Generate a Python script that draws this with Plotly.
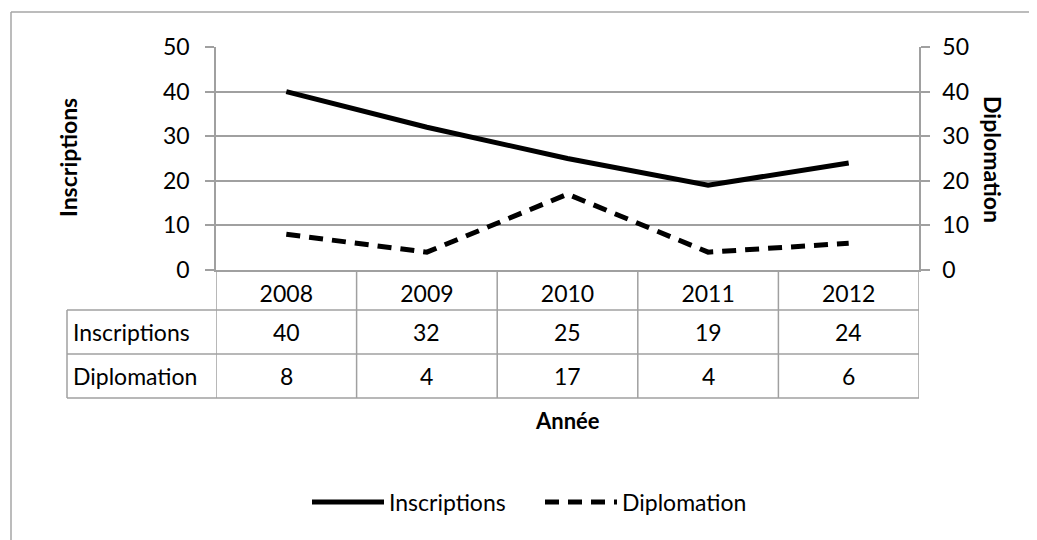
import plotly.graph_objects as go

W, H = 1037, 540
OX, OY = 8, 8  # page body margin offset

years = ["2008", "2009", "2010", "2011", "2012"]
inscriptions = [40, 32, 25, 19, 24]
diplomation = [8, 4, 17, 4, 6]
series_names = ["Inscriptions", "Diplomation"]
y_ticks = [0, 10, 20, 30, 40, 50]

FONT = "Lato, Calibri, Carlito, sans-serif"
FS = 23
GRID = "#a0a0a0"

def px(x):
    return (x - OX) / W

def py(y):
    return 1 - (y - OY) / H

# plot area (page pixels)
L, R, T, B = 216, 919, 47, 270
row_lines = [310, 354, 398]
table_left = 67

fig = go.Figure()
fig.add_trace(go.Scatter(x=years, y=inscriptions, name=series_names[0], mode="lines",
                         line=dict(color="black", width=5), yaxis="y"))
fig.add_trace(go.Scatter(x=years, y=diplomation, name=series_names[1], mode="lines",
                         line=dict(color="black", width=5, dash="14px,9px"), yaxis="y2"))

n = len(years)
shapes = []
# outer frame (partially visible)
shapes.append(dict(type="line", xref="paper", yref="paper", x0=px(11), x1=1.02, y0=py(12), y1=py(12),
                   line=dict(color="#a6a6a6", width=1.5)))
shapes.append(dict(type="line", xref="paper", yref="paper", x0=px(11), x1=px(11), y0=py(12), y1=-0.02,
                   line=dict(color="#a6a6a6", width=1.5)))
# vertical category dividers through header + table rows
for i in range(n + 1):
    shapes.append(dict(type="line", xref="x", yref="paper", x0=i - 0.5, x1=i - 0.5,
                       y0=py(B), y1=py(row_lines[-1]), line=dict(color=GRID, width=1.5)))
# horizontal table lines
for yl in row_lines:
    shapes.append(dict(type="line", xref="paper", yref="paper", x0=px(table_left), x1=px(R),
                       y0=py(yl), y1=py(yl), line=dict(color=GRID, width=1.5)))
shapes.append(dict(type="line", xref="paper", yref="paper", x0=px(table_left), x1=px(table_left),
                   y0=py(row_lines[0]), y1=py(row_lines[-1]), line=dict(color=GRID, width=1.5)))

annotations = []
row_centers = [(row_lines[0] + row_lines[1]) / 2, (row_lines[1] + row_lines[2]) / 2]
for name, vals, yc in zip(series_names, [inscriptions, diplomation], row_centers):
    annotations.append(dict(text=name, xref="paper", yref="paper", x=px(table_left + 4), y=py(yc),
                            xanchor="left", yanchor="middle", showarrow=False,
                            font=dict(family=FONT, size=FS, color="black")))
    for i, v in enumerate(vals):
        annotations.append(dict(text=str(v), xref="x", yref="paper", x=i, y=py(yc),
                                xanchor="center", yanchor="middle", showarrow=False,
                                font=dict(family=FONT, size=FS, color="black")))
# axis titles
annotations.append(dict(text="<b>Inscriptions</b>", xref="paper", yref="paper", x=px(68), y=py(158),
                        textangle=-90, showarrow=False, xanchor="center", yanchor="middle",
                        font=dict(family=FONT, size=FS, color="black")))
annotations.append(dict(text="<b>Diplomation</b>", xref="paper", yref="paper", x=px(993), y=py(159),
                        textangle=90, showarrow=False, xanchor="center", yanchor="middle",
                        font=dict(family=FONT, size=FS, color="black")))
annotations.append(dict(text="<b>Année</b>", xref="paper", yref="paper", x=px(567), y=py(420),
                        showarrow=False, xanchor="center", yanchor="middle",
                        font=dict(family=FONT, size=FS - 1, color="black")))

fig.update_layout(
    width=W, height=H, autosize=False,
    margin=dict(l=0, r=0, t=0, b=0),
    paper_bgcolor="white", plot_bgcolor="white",
    font=dict(family=FONT, size=FS, color="black"),
    xaxis=dict(domain=[px(L), px(R)], type="category", range=[-0.5, n - 0.5],
               showgrid=False, showline=True, linecolor=GRID, linewidth=1.5,
               ticks="", ticklabelstandoff=3, tickfont=dict(size=FS), zeroline=False, fixedrange=True),
    yaxis=dict(domain=[py(B), py(T)], range=[0, 50], tickvals=y_ticks,
               showgrid=True, gridcolor=GRID, gridwidth=1.5,
               showline=True, linecolor=GRID, linewidth=1.5,
               ticks="outside", ticklen=9, tickcolor=GRID, tickwidth=1.5,
               ticklabelstandoff=11, zeroline=False, automargin=False),
    yaxis2=dict(overlaying="y", side="right", range=[0, 50], tickvals=y_ticks,
                showgrid=False, showline=True, linecolor=GRID, linewidth=1.5,
                ticks="outside", ticklen=9, tickcolor=GRID, tickwidth=1.5,
                ticklabelstandoff=8, zeroline=False, automargin=False),
    showlegend=True,
    legend=dict(orientation="h", x=px(307), y=py(502), xanchor="left", yanchor="middle",
                itemwidth=72, entrywidth=146, font=dict(family=FONT, size=FS),
                bgcolor="rgba(0,0,0,0)", traceorder="normal"),
    shapes=shapes, annotations=annotations,
)

fig.write_html("out.html")
